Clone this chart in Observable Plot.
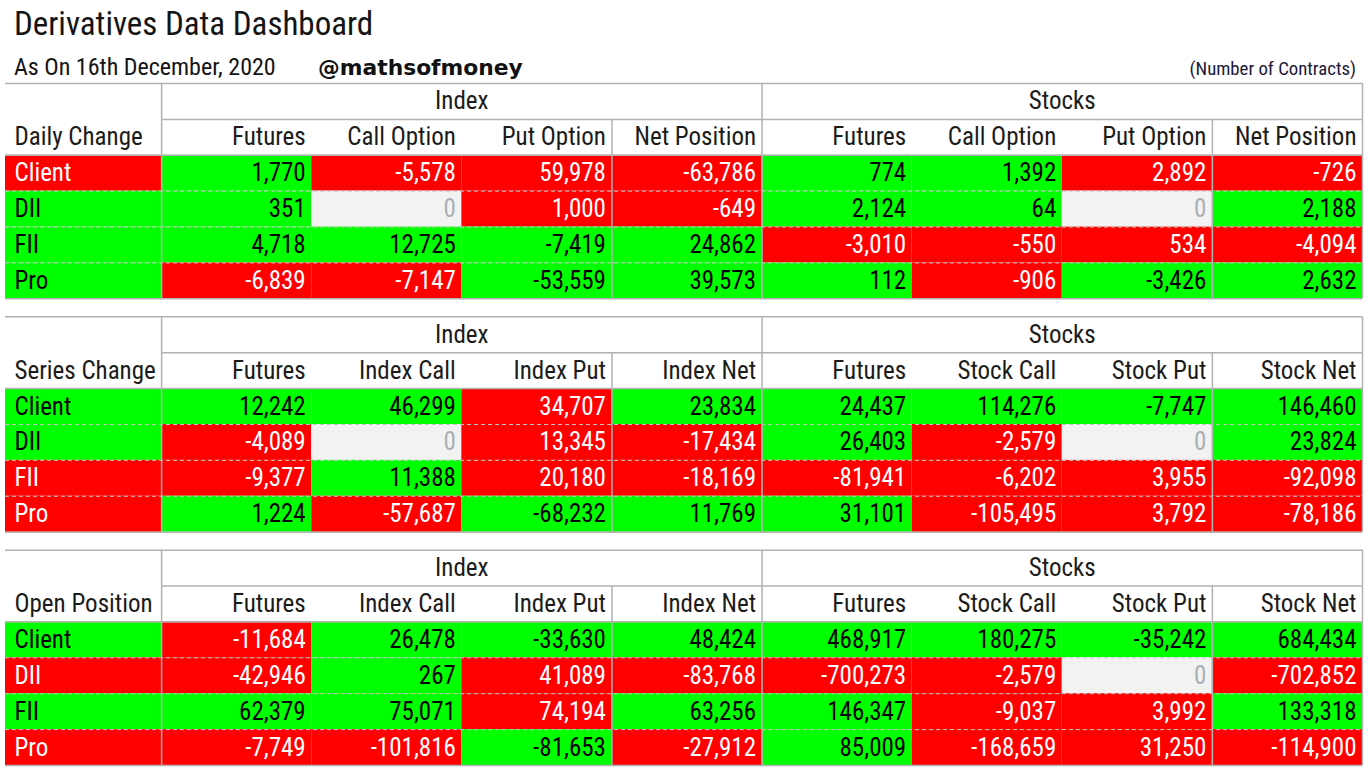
<!DOCTYPE html>
<html>
<head>
<meta charset="utf-8">
<script src="https://cdn.jsdelivr.net/npm/d3@7"></script>
<script src="https://cdn.jsdelivr.net/npm/@observablehq/plot@0.6"></script>
<style>
  html, body { margin: 0; padding: 0; background: #fff; }
  #head { position: relative; width: 1369px; height: 80px; color: #141414; }
  #head div { position: absolute; white-space: nowrap; line-height: 1; }
  #chart svg { display: block; }
</style>
</head>
<body>
<div id="head">
  <div id="title"></div>
  <div id="sub"></div>
  <div id="handle"></div>
  <div id="unit"></div>
</div>
<div id="chart"></div>
<script>
// ---------------- data ----------------
const title = "Derivatives Data Dashboard";
const subtitle = "As On 16th December, 2020";
const handle = "@mathsofmoney";
const unitNote = "(Number of Contracts)";

const sections = ["Daily Change", "Series Change", "Open Position"];
const groups = ["Index", "Stocks"];
const participants = ["Client", "DII", "FII", "Pro"];

const dailyColumns = ["Futures", "Call Option", "Put Option", "Net Position", "Futures", "Call Option", "Put Option", "Net Position"];
const seriesColumns = ["Futures", "Index Call", "Index Put", "Index Net", "Futures", "Stock Call", "Stock Put", "Stock Net"];
const openColumns = ["Futures", "Index Call", "Index Put", "Index Net", "Futures", "Stock Call", "Stock Put", "Stock Net"];
const columnKinds = ["Futures", "Call", "Put", "Net", "Futures", "Call", "Put", "Net"];

const dailyChange = [
  [1770, -5578, 59978, -63786, 774, 1392, 2892, -726],
  [351, 0, 1000, -649, 2124, 64, 0, 2188],
  [4718, 12725, -7419, 24862, -3010, -550, 534, -4094],
  [-6839, -7147, -53559, 39573, 112, -906, -3426, 2632]
];
const seriesChange = [
  [12242, 46299, 34707, 23834, 24437, 114276, -7747, 146460],
  [-4089, 0, 13345, -17434, 26403, -2579, 0, 23824],
  [-9377, 11388, 20180, -18169, -81941, -6202, 3955, -92098],
  [1224, -57687, -68232, 11769, 31101, -105495, 3792, -78186]
];
const openPosition = [
  [-11684, 26478, -33630, 48424, 468917, 180275, -35242, 684434],
  [-42946, 267, 41089, -83768, -700273, -2579, 0, -702852],
  [62379, 75071, 74194, 63256, 146347, -9037, 3992, 133318],
  [-7749, -101816, -81653, -27912, 85009, -168659, 31250, -114900]
];

// ---------------- fonts ----------------
function hasFont(name) {
  const ctx = document.createElement("canvas").getContext("2d");
  const s = "abcdefghijklmnopqrstuvwxyz ABCDEFGHIJ 0123456789";
  return ["monospace", "serif"].some(fb => {
    ctx.font = `40px ${fb}`;
    const w0 = ctx.measureText(s).width;
    ctx.font = `40px '${name}', ${fb}`;
    return ctx.measureText(s).width !== w0;
  });
}
const narrowCandidates = ["Liberation Sans Narrow", "Arial Narrow", "Roboto Condensed", "DejaVu Sans Condensed", "Liberation Sans"];
const narrow = narrowCandidates.find(hasFont) || "sans-serif";
const FONT = `'${narrow}', sans-serif`;

function setText(id, text, font, size, weight, baseline, left, right, color) {
  const el = document.getElementById(id);
  el.textContent = text;
  el.style.fontFamily = font;
  el.style.fontSize = size + "px";
  el.style.fontWeight = weight;
  if (color) el.style.color = color;
  const ctx = document.createElement("canvas").getContext("2d");
  ctx.font = `${weight} ${size}px ${font}`;
  const m = ctx.measureText("Hg");
  const asc = m.fontBoundingBoxAscent ?? size * 0.9, desc = m.fontBoundingBoxDescent ?? size * 0.21;
  const top = baseline - ((size - (asc + desc)) / 2 + asc);
  el.style.top = top + "px";
  if (left != null) el.style.left = left + "px";
  if (right != null) el.style.right = right + "px";
}
setText("title", title, FONT, 33, "normal", 35, 14, null);
setText("sub", subtitle, FONT, 24, "normal", 75, 14, null);
setText("handle", handle, "'DejaVu Sans', Verdana, sans-serif", 21.8, "bold", 75, 318, null, "#111");
setText("unit", unitNote, FONT, 18.8, "normal", 75, null, 13, "#1c1838");

// ---------------- layout helpers ----------------
const LABEL = -1.04;          // left edge of the row-label column (in column units)
const NCOL = 8;
const TABLE_STEP = 6.5;       // 6 rows + half-row gap
const GREEN = "#00ff00", RED = "#ff0000", ZERO = "#f2f2f2";
const sig = (v, kind) => v === 0 ? 0 : Math.sign(v) * (kind === "Put" ? -1 : 1);
const fillOf = s => s > 0 ? GREEN : s < 0 ? RED : ZERO;
const inkOf = s => s > 0 ? "#000000" : s < 0 ? "#ffffff" : "#a9afb5";
const fmt = v => v.toLocaleString("en-US");

const tables = [dailyChange, seriesChange, openPosition].map((values, t) => ({
  t, section: sections[t], columns: [dailyColumns, seriesColumns, openColumns][t], values, top: t * TABLE_STEP
}));
const cells = tables.flatMap(tb => tb.values.flatMap((row, r) => row.map((v, c) => ({
  c, y: tb.top + 2 + r, v, s: sig(v, columnKinds[c])
}))));
const labels = tables.flatMap(tb => tb.values.map((row, r) => ({
  name: participants[r], y: tb.top + 2 + r, s: Math.sign(row[3] + row[7])
})));
const colHeads = tables.flatMap(tb => tb.columns.map((name, c) => ({name, c, y: tb.top + 1})));
const groupHeads = tables.flatMap(tb => groups.map((g, i) => ({g, i, y: tb.top})));
const dashes = tables.flatMap(tb => [3, 4, 5].map(k => ({y: tb.top + k})));
const hLines = tables.flatMap(tb => [
  {y: tb.top, x1: LABEL, x2: NCOL},
  {y: tb.top + 1, x1: 0, x2: NCOL},
  {y: tb.top + 2, x1: LABEL, x2: NCOL},
  {y: tb.top + 6, x1: LABEL, x2: NCOL}
]);
const vLines = tables.flatMap(tb => [
  {x: 0, y1: tb.top, y2: tb.top + 6},
  {x: 4, y1: tb.top, y2: tb.top + 6},
  {x: NCOL, y1: tb.top, y2: tb.top + 6},
  {x: 3, y1: tb.top + 1, y2: tb.top + 6},
  {x: 7, y1: tb.top + 1, y2: tb.top + 6}
]);

const FS = 25;
const chart = Plot.plot({
  width: 1369,
  height: 689,
  marginTop: 3,
  marginBottom: 4,
  marginLeft: 5,
  marginRight: 7,
  x: {domain: [LABEL, NCOL], axis: null},
  y: {domain: [19, 0], axis: null},
  color: {type: "identity"},
  style: {fontFamily: FONT, background: "#fff"},
  marks: [
    Plot.rect(cells, {x1: d => d.c, x2: d => d.c + 1, y1: d => d.y, y2: d => d.y + 1, fill: d => fillOf(d.s), inset: 0}),
    Plot.rect(labels, {x1: () => LABEL, x2: () => 0, y1: d => d.y, y2: d => d.y + 1, fill: d => fillOf(d.s), inset: 0}),
    Plot.ruleY(dashes, {y: "y", x1: () => LABEL, x2: () => NCOL, stroke: "#c4c4c4", strokeWidth: 1, strokeDasharray: "4,3"}),
    Plot.ruleY(hLines, {y: "y", x1: "x1", x2: "x2", stroke: "#b2b2b2", strokeWidth: 1.5}),
    Plot.ruleX(vLines, {x: "x", y1: "y1", y2: "y2", stroke: "#b2b2b2", strokeWidth: 1.5}),
    Plot.text(groupHeads, {x: d => d.i * 4 + 2, y: d => d.y + 0.5, text: "g", fontSize: FS, fill: "#1b1b1b"}),
    Plot.text(tables, {x: () => LABEL, y: d => d.top + 1.5, text: "section", dx: 9, textAnchor: "start", fontSize: FS, fill: "#1b1b1b"}),
    Plot.text(colHeads, {x: d => d.c + 1, y: d => d.y + 0.5, text: "name", dx: -6, textAnchor: "end", fontSize: FS, fill: "#1b1b1b"}),
    Plot.text(labels, {x: () => LABEL, y: d => d.y + 0.5, text: "name", dx: 9, textAnchor: "start", fontSize: FS, fill: d => inkOf(d.s)}),
    Plot.text(cells, {x: d => d.c + 1, y: d => d.y + 0.5, text: d => fmt(d.v), dx: -6, textAnchor: "end", fontSize: FS, fill: d => inkOf(d.s)})
  ]
});
document.getElementById("chart").append(chart);
</script>
</body>
</html>
